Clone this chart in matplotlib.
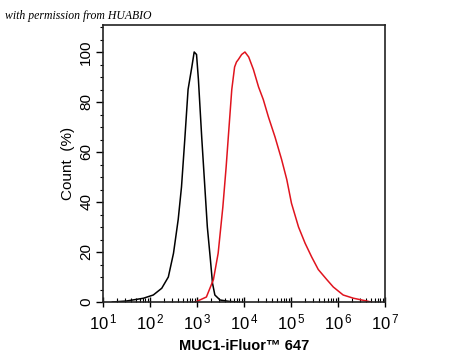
import matplotlib
matplotlib.use("Agg")
import matplotlib.pyplot as plt
import numpy as np
from matplotlib.ticker import LogLocator, MultipleLocator, FixedLocator

# Isotype control (black) histogram: log10(intensity), count %
black_logx = [1.20, 1.50, 1.86, 2.07, 2.25, 2.39, 2.50, 2.60, 2.67, 2.74, 2.81,
              2.89, 2.94, 2.99, 3.03, 3.10, 3.17, 3.22, 3.28, 3.33, 3.38, 3.49,
              3.70, 3.90]
black_y = [0.0, 0.4, 1.5, 2.8, 5.5, 10, 19.5, 33, 46, 65, 85,
           94, 100, 99, 89, 66, 45, 30, 18, 7.5, 2.8, 0.8,
           0.2, 0.0]

# MUC1 stained (red) histogram
red_logx = [2.95, 2.99, 3.20, 3.35, 3.45, 3.55, 3.62, 3.67, 3.74, 3.80, 3.84,
            3.88, 3.95, 4.02, 4.10, 4.20, 4.31, 4.41, 4.52, 4.66, 4.80, 4.91,
            5.01, 5.16, 5.30, 5.44, 5.58, 5.76, 5.90, 6.11, 6.33, 6.61, 6.70]
red_y = [0.0, 0.2, 2, 9, 19.5, 38, 54, 67, 85, 94, 96,
         97, 99, 100, 98, 93, 86, 81, 74, 66, 57, 49,
         39.5, 30, 23.5, 18, 13, 9, 6, 2.8, 1.5, 0.4, 0.0]

xlabel = "MUC1-iFluor\u2122 647"
ylabel = "Count  (%)"
note = "with permission from HUABIO"

plt.rcParams['font.family'] = ['Liberation Sans', 'DejaVu Sans']
plt.rcParams['mathtext.fontset'] = 'custom'
plt.rcParams['mathtext.rm'] = 'Liberation Sans'
plt.rcParams['mathtext.it'] = 'Liberation Sans'
plt.rcParams['mathtext.default'] = 'regular'

fig = plt.figure(figsize=(4.5, 3.6), dpi=100)
ax = fig.add_axes([103/450, 1-302/360, (385-103)/450, (302-25)/360])

ax.plot(10**np.array(black_logx), black_y, color='black', lw=1.1)
ax.plot(10**np.array(red_logx), red_y, color='#e0141e', lw=1.1)

ax.set_xscale('log')
ax.set_xlim(10**1, 10**7)
ax.set_ylim(0, 110.8)

ax.xaxis.set_major_locator(FixedLocator([10.0**k for k in range(1, 8)]))
ax.xaxis.set_minor_locator(LogLocator(base=10, subs=np.arange(2, 10), numticks=20))
ax.set_xticklabels([f"$10^{{\\,{k}}}$" for k in range(1, 8)])
ax.yaxis.set_major_locator(MultipleLocator(20))
ax.yaxis.set_minor_locator(MultipleLocator(5))

ax.tick_params(axis='x', which='major', direction='inout', length=7, width=1.0,
               labelsize=12, pad=4)
ax.tick_params(axis='x', which='minor', direction='in', length=3, width=0.8)
ax.tick_params(axis='y', which='major', direction='out', length=5, width=1.0,
               labelsize=11, pad=2)
ax.tick_params(axis='y', which='minor', direction='out', length=2.5, width=0.8)
for lbl in ax.get_yticklabels():
    lbl.set_rotation(90)
    lbl.set_va('center')

for s in ax.spines.values():
    s.set_linewidth(1.2)
    s.set_color('#222222')

ax.set_xlabel(xlabel, fontsize=10.5, fontweight='bold', labelpad=5)
ax.set_ylabel(ylabel, fontsize=11, labelpad=3)

fig.text(5/450, 1-16/360, note, fontsize=8.5, style='italic',
         family=['Liberation Serif', 'DejaVu Serif'], va='center', ha='left')

fig.savefig("out.png", dpi=100)
